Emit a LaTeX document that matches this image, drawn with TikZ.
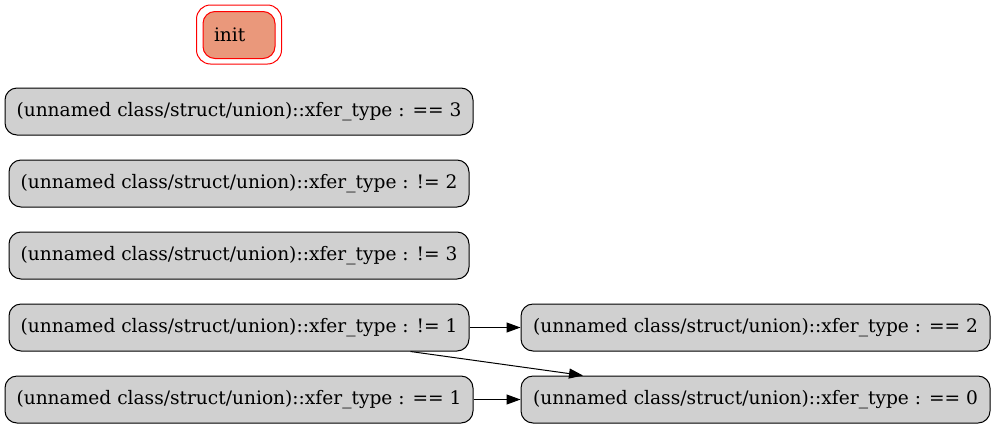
\documentclass[tikz,border=0pt]{standalone}
\usepackage{fontspec}
\setmainfont{DejaVu Serif}
\usetikzlibrary{arrows.meta}
\definecolor{boxgray}{HTML}{D0D0D0}
\definecolor{initfill}{HTML}{EA987B}
\tikzset{
  cond/.style={draw=black, line width=1pt, fill=boxgray, rounded corners=12pt, minimum height=47pt, inner xsep=0pt, font=\fontsize{18.6}{22}\selectfont},
  initbox/.style={draw=red, line width=1pt, fill=initfill, rounded corners=12pt, minimum height=47pt, text width=50pt, inner xsep=11pt, align=left, font=\fontsize{18.6}{22}\selectfont},
  edge/.style={-{Triangle[length=14pt,width=10pt]}, line width=1pt, black}
}
\begin{document}
\begin{tikzpicture}[x=1pt,y=-1pt]
\useasboundingbox (0,0) rectangle (995,429);
\node[initbox] (init) at (239,35) {init};
\draw[red, line width=1pt, rounded corners=14pt]([shift={(-6pt,-5pt)}]init.south west) rectangle ([shift={(6pt,6pt)}]init.north east);
\node[cond, minimum width=468pt] (eqthree) at (239,111.5) {(unnamed class/struct/union)::xfer\_type : == 3};
\node[cond, minimum width=460pt] (netwo) at (239,183.5) {(unnamed class/struct/union)::xfer\_type : != 2};
\node[cond, minimum width=460pt] (nethree) at (239,255.5) {(unnamed class/struct/union)::xfer\_type : != 3};
\node[cond, minimum width=460pt] (neone) at (239,327.5) {(unnamed class/struct/union)::xfer\_type : != 1};
\node[cond, minimum width=468pt] (eqone) at (239,399.5) {(unnamed class/struct/union)::xfer\_type : == 1};
\node[cond, minimum width=469pt] (eqtwo) at (755.5,327.5) {(unnamed class/struct/union)::xfer\_type : == 2};
\node[cond, minimum width=469pt] (eqzero) at (755.5,399.5) {(unnamed class/struct/union)::xfer\_type : == 0};
% edges
\draw[edge] (neone) -- (eqtwo);
\draw[edge] (eqone) -- (eqzero);
\draw[edge] ([xshift=-59pt]neone.south east) -- ([xshift=-172.5pt]eqzero.north);
\end{tikzpicture}
\end{document}
